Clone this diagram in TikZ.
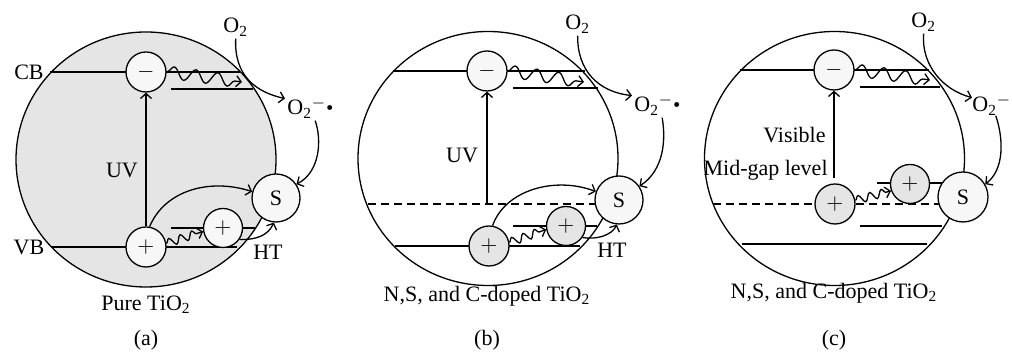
\documentclass[tikz,border=0pt]{standalone}
\usepackage{fontspec}
\setmainfont{Liberation Serif}
\usepackage{xcolor}
\usetikzlibrary{arrows.meta, decorations.pathmorphing}
\definecolor{bandgray}{gray}{0.9}
\definecolor{lightfill}{gray}{0.97}

\begin{document}
\begin{tikzpicture}[
    x=0.5pt, y=-0.5pt,
    font=\fontsize{11}{13}\selectfont,
    band/.style={line width=0.65pt},
    midgap/.style={band, dash pattern=on 4pt off 2.5pt},
    charge/.style={circle, draw=black, line width=0.65pt, fill=lightfill, minimum size=20pt, inner sep=0pt},
    hole/.style={charge, fill=bandgray},
    dye/.style={charge, minimum size=24pt},
    txt/.style={inner sep=1pt},
    arrow/.style={-{Straight Barb[length=2.5pt,width=5.5pt]}, line width=0.65pt},
    wavy/.style={arrow, decorate, decoration={snake, amplitude=3pt, segment length=11pt, post length=3pt}},
    wavysmall/.style={arrow, decorate, decoration={snake, amplitude=2pt, segment length=6pt, post length=2pt}}
]
    \useasboundingbox (0,0) rectangle (1012,356);

    % (a) pure TiO2
    \draw [band, fill=bandgray] (146,159.5) ellipse [x radius=65pt, y radius=63.75pt];
    \coordinate (cbla) at (50,72);
    \coordinate (cbra) at (240,72);
    \coordinate (cbla2) at (171,89);
    \coordinate (cbra2) at (253,89);
    \coordinate (vbla) at (51,247);
    \coordinate (vbra) at (237,247);
    \coordinate (vbla2) at (171,228);
    \coordinate (vbra2) at (255,228);
    \draw [band] (cbla) -- (cbra);
    \draw [band] (cbla2) -- (cbra2);
    \draw [band] (vbla) -- (vbra);
    \draw [band] (vbla2) -- (vbra2);

    \node (minusa) [charge] at (146,72) {$-$};
    \node (plusa) [charge] at (146,247) {$+$};
    \node (plusa2) [charge, minimum size=19.5pt] at (223,228) {$+$};
    \node (sa) [dye] at (276,198) {S};

    \node (cba) [txt] at (29,72) {CB};
    \node (vba) [txt] at (29,247) {VB};
    \node (uva) [txt] at (122,170) {UV};
    \node (hta) [txt] at (268,252) {HT};
    \node (o2a) [txt, anchor=base west] at (221,33) {O\textsubscript{2}};
    \node (rada) [txt, anchor=base west] at (285,115) {O\textsubscript{2}\textsuperscript{$-$}\raisebox{2pt}{\tiny$\bullet$}};
    \node (namea) [txt] at (146,305) {Pure TiO\textsubscript{2}};
    \node (capa) [txt] at (146,340) {(a)};

    \coordinate (wva) at (242,82);
    \draw [arrow] (plusa.north) -- (minusa.south);
    \draw [wavy] (minusa.east) -- (wva);
    \draw [wavysmall] (plusa.10) -- (plusa2.190);
    \draw [arrow] (plusa.80) .. controls (165,190) and (210,178) .. (sa.165);
    \draw [arrow] (plusa2.-35) .. controls (255,240) and (268,236) .. (sa.-95);
    \draw [arrow] (o2a.south) .. controls (234,75) and (255,92) .. (rada.160);
    \draw [arrow] (rada.-70) .. controls (322,140) and (320,172) .. (sa.34);

    % (b) N,S,C-doped, UV
    \draw [band] (488,158.5) ellipse [x radius=65pt, y radius=63.5pt];
    \coordinate (cblb) at (393,71);
    \coordinate (cbrb) at (585,71);
    \coordinate (cblb2) at (513,88);
    \coordinate (cbrb2) at (598,88);
    \coordinate (mglb) at (368,204);
    \coordinate (mgrb) at (596,204);
    \coordinate (vblb) at (395,246);
    \coordinate (vbrb) at (580,246);
    \coordinate (vblb2) at (513,226);
    \coordinate (vbrb2) at (597,226);
    \draw [band] (cblb) -- (cbrb);
    \draw [band] (cblb2) -- (cbrb2);
    \draw [midgap] (mglb) -- (mgrb);
    \draw [band] (vblb) -- (vbrb);
    \draw [band] (vblb2) -- (vbrb2);

    \node (minusb) [charge] at (487,71) {$-$};
    \node (plusb) [hole] at (489,246) {$+$};
    \node (plusb2) [hole, minimum size=19.5pt] at (566,226) {$+$};
    \node (sb) [dye] at (619,200) {S};

    \node (uvb) [txt] at (462,155) {UV};
    \node (htb) [txt] at (612,250) {HT};
    \node (o2b) [txt, anchor=base west] at (563,30) {O\textsubscript{2}};
    \node (radb) [txt, anchor=base west] at (632,112) {O\textsubscript{2}\textsuperscript{$-$}\raisebox{2pt}{\tiny$\bullet$}};
    \node (nameb) [txt] at (487,296) {N,S, and C-doped TiO\textsubscript{2}};
    \node (capb) [txt] at (487,340) {(b)};

    \coordinate (uvfootb) at (487,204);
    \coordinate (wvb) at (584,82);
    \draw [arrow] (uvfootb) -- (minusb.south);
    \draw [wavy] (minusb.east) -- (wvb);
    \draw [wavysmall] (plusb.10) -- (plusb2.190);
    \draw [arrow] (plusb.80) .. controls (505,190) and (555,176) .. (sb.160);
    \draw [arrow] (plusb2.-35) .. controls (597,240) and (612,235) .. (sb.-95);
    \draw [arrow] (o2b.south) .. controls (577,70) and (598,92) .. (radb.160);
    \draw [arrow] (radb.-70) .. controls (666,140) and (664,170) .. (sb.34);

    % (c) N,S,C-doped, visible
    \draw [band] (834.5,158.5) ellipse [x radius=65pt, y radius=63.5pt];
    \coordinate (cblc) at (740,70);
    \coordinate (cbrc) at (929,70);
    \coordinate (cblc2) at (860,87);
    \coordinate (cbrc2) at (940,87);
    \coordinate (lvlc) at (877,183);
    \coordinate (lvrc) at (945,183);
    \coordinate (mglc) at (713,204);
    \coordinate (mgrc) at (942,204);
    \coordinate (lwlc) at (860,226);
    \coordinate (lwrc) at (942,226);
    \coordinate (vblc) at (742,244);
    \coordinate (vbrc) at (927,244);
    \draw [band] (cblc) -- (cbrc);
    \draw [band] (cblc2) -- (cbrc2);
    \draw [band] (lvlc) -- (lvrc);
    \draw [midgap] (mglc) -- (mgrc);
    \draw [band] (lwlc) -- (lwrc);
    \draw [band] (vblc) -- (vbrc);

    \node (minusc) [charge] at (834,70) {$-$};
    \node (plusc) [hole] at (835,204) {$+$};
    \node (plusc2) [hole, minimum size=19.5pt] at (910,184) {$+$};
    \node (sc) [dye, minimum size=25pt] at (963,197) {S};

    \node (visc) [txt, anchor=east] at (828,135) {Visible};
    \node (midc) [txt, anchor=east] at (830,170) {Mid-gap level};
    \node (o2c) [txt, anchor=base west] at (909,28) {O\textsubscript{2}};
    \node (radc) [inner sep=0pt, anchor=base west] at (972,112) {O\textsubscript{2}\textsuperscript{$-$}};
    \node (namec) [txt] at (834,293) {N,S, and C-doped TiO\textsubscript{2}};
    \node (capc) [txt] at (834,340) {(c)};

    \coordinate (visfootc) at (834,178);
    \coordinate (wvc) at (930,80);
    \draw [arrow] (visfootc) -- (minusc.south);
    \draw [wavy] (minusc.east) -- (wvc);
    \draw [wavysmall] (plusc.10) -- (plusc2.200);
    \draw [arrow] (o2c.south) .. controls (921,65) and (943,90) .. (radc.160);
    \draw [arrow] (radc.-70) .. controls (1004,140) and (1004,170) .. (sc.30);
\end{tikzpicture}
\end{document}
